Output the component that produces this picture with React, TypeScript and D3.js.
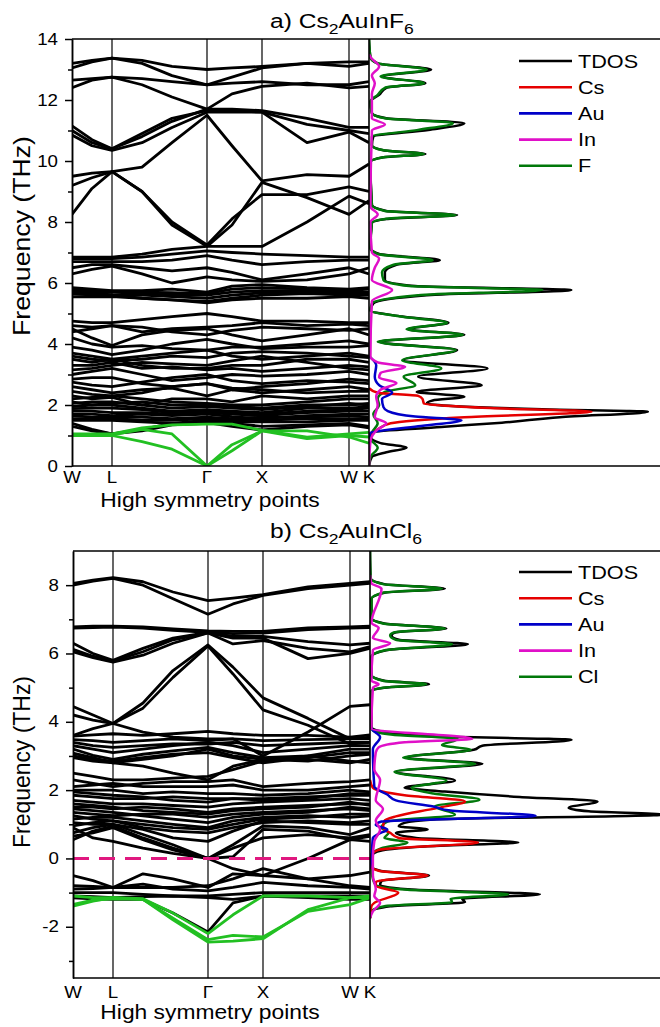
import React, { useEffect, useRef } from 'react';
import * as d3 from 'd3';

const FONT = '"Liberation Sans", Arial, Helvetica, sans-serif';
const SX = 1.17; // the figure's lettering is a bit wider than Arial

// sampled points along the path W - L - Γ - X - W - K (path distance)
const kPath = [0, 20, 40, 70, 100, 135, 160, 190, 235, 277, 297];
const kLabels = ['W', 'L', 'Γ', 'X', 'W', 'K'];
const kLabelPos = [0, 40, 135, 190, 277, 297];

const legendA = ['TDOS', 'Cs', 'Au', 'In', 'F'];
const legendB = ['TDOS', 'Cs', 'Au', 'In', 'Cl'];
const dosColors = ['#000000', '#e60000', '#0000c8', '#e010c8', '#00780a'];
const acousticColor = '#22c022';

// ---- a) Cs2AuInF6 phonon bands (THz) ----
const acousticA = [
  [1.0, 1.0, 1.0, 0.8, 0.55, 0.0, 0.5, 1.15, 0.9, 1.0, 0.95],
  [1.02, 1.02, 1.02, 1.2, 1.05, 0.0, 0.7, 1.15, 1.15, 0.95, 0.75],
  [1.05, 1.05, 1.05, 1.25, 1.35, 1.37, 1.37, 1.17, 0.95, 1.05, 1.1],
];
const bandsA = [
  [13.2, 13.3, 13.37, 13.3, 13.1, 13.0, 13.05, 13.1, 13.2, 13.25, 13.25],
  [13.05, 13.25, 13.37, 13.2, 12.8, 12.5, 12.75, 13.05, 13.2, 13.1, 13.2],
  [12.65, 12.7, 12.75, 12.7, 12.6, 12.5, 12.55, 12.6, 12.5, 12.5, 12.6],
  [12.4, 12.65, 12.75, 12.5, 12.1, 11.7, 12.2, 12.45, 12.55, 12.4, 12.45],
  [11.15, 10.7, 10.4, 10.8, 11.3, 11.7, 11.7, 11.65, 11.4, 11.1, 11.1],
  [11.0, 10.6, 10.4, 10.9, 11.4, 11.65, 11.65, 11.6, 11.2, 11.0, 10.9],
  [10.85, 10.5, 10.35, 10.6, 11.1, 11.6, 11.6, 11.6, 10.6, 10.95, 10.6],
  [9.5, 9.6, 9.65, 9.8, 10.6, 11.5, 10.5, 9.35, 9.55, 9.5, 9.9],
  [9.2, 9.45, 9.65, 9.0, 8.0, 7.25, 8.1, 8.9, 8.9, 9.15, 9.0],
  [8.25, 9.1, 9.65, 9.0, 7.9, 7.2, 7.9, 9.3, 8.8, 8.25, 8.7],
  [6.85, 6.85, 6.85, 6.95, 7.1, 7.2, 7.2, 7.2, 8.0, 8.85, 8.6],
  [6.8, 6.8, 6.8, 6.85, 6.95, 7.05, 7.0, 6.95, 6.9, 6.85, 6.85],
  [6.7, 6.7, 6.7, 6.7, 6.75, 6.9, 6.75, 6.6, 6.7, 6.75, 6.75],
  [6.5, 6.6, 6.6, 6.5, 6.4, 6.5, 6.35, 6.1, 6.3, 6.5, 6.3],
  [6.3, 6.45, 6.55, 6.3, 6.0, 6.2, 6.1, 6.05, 6.1, 6.3, 6.5],
  [5.85, 5.8, 5.75, 5.75, 5.8, 5.7, 5.9, 5.95, 5.85, 5.8, 5.85],
  [5.8, 5.75, 5.72, 5.7, 5.68, 5.65, 5.8, 5.85, 5.8, 5.75, 5.8],
  [5.75, 5.7, 5.7, 5.65, 5.6, 5.6, 5.7, 5.75, 5.75, 5.7, 5.7],
  [5.7, 5.65, 5.62, 5.6, 5.55, 5.5, 5.6, 5.68, 5.7, 5.65, 5.65],
  [5.65, 5.6, 5.6, 5.5, 5.45, 5.4, 5.5, 5.6, 5.65, 5.6, 5.6],
  [5.55, 5.55, 5.55, 5.5, 5.45, 5.35, 5.45, 5.5, 5.5, 5.55, 5.5],
  [4.75, 4.7, 4.7, 4.8, 4.9, 5.0, 4.9, 4.75, 4.75, 4.7, 4.7],
  [4.6, 4.55, 4.6, 4.4, 4.5, 4.55, 4.6, 4.7, 4.6, 4.65, 4.6],
  [4.4, 4.5, 4.6, 4.55, 4.4, 4.3, 4.45, 4.55, 4.5, 4.45, 4.5],
  [4.5, 4.2, 3.95, 4.3, 4.45, 4.5, 4.3, 4.1, 4.3, 4.5, 4.3],
  [4.2, 4.0, 3.9, 3.95, 3.85, 3.8, 3.9, 3.9, 4.0, 4.1, 4.0],
  [3.9, 3.8, 3.65, 3.8, 4.0, 4.15, 4.0, 3.85, 3.9, 3.9, 3.95],
  [3.7, 3.6, 3.5, 3.6, 3.7, 3.8, 3.6, 3.5, 3.6, 3.7, 3.6],
  [3.6, 3.5, 3.45, 3.5, 3.6, 3.55, 3.7, 3.75, 3.7, 3.6, 3.55],
  [3.5, 3.4, 3.5, 3.3, 3.2, 3.2, 3.3, 3.3, 3.5, 3.5, 3.4],
  [3.3, 3.3, 3.4, 3.2, 3.25, 3.15, 3.2, 3.1, 3.2, 3.3, 3.25],
  [3.15, 3.2, 3.3, 3.4, 3.35, 3.3, 3.45, 3.6, 3.4, 3.2, 3.15],
  [3.0, 3.1, 3.2, 3.0, 2.8, 2.9, 3.0, 2.95, 3.0, 3.1, 3.0],
  [2.85, 2.9, 2.9, 2.7, 2.6, 2.7, 2.5, 2.6, 2.7, 2.85, 2.8],
  [2.75, 2.65, 2.6, 2.75, 2.9, 3.0, 2.8, 2.7, 2.8, 2.75, 2.7],
  [2.6, 2.5, 2.4, 2.5, 2.55, 2.3, 2.5, 2.4, 2.5, 2.6, 2.5],
  [2.45, 2.35, 2.3, 2.4, 2.6, 2.7, 2.55, 2.5, 2.4, 2.45, 2.45],
  [2.3, 2.2, 2.25, 2.0, 2.2, 2.2, 2.1, 2.3, 2.2, 2.3, 2.3],
  [2.2, 2.25, 2.3, 2.2, 2.1, 2.05, 2.0, 2.0, 2.1, 2.2, 2.2],
  [2.1, 2.0, 2.05, 2.1, 2.0, 2.0, 1.95, 1.9, 2.0, 2.0, 2.05],
  [2.05, 2.1, 2.1, 2.0, 1.9, 1.95, 1.9, 1.85, 1.95, 2.05, 2.0],
  [1.95, 2.0, 2.0, 1.9, 1.8, 1.85, 1.8, 1.75, 1.9, 1.9, 1.95],
  [1.88, 1.9, 1.9, 1.85, 1.75, 1.8, 1.75, 1.7, 1.8, 1.85, 1.9],
  [1.8, 1.8, 1.75, 1.75, 1.7, 1.75, 1.7, 1.65, 1.75, 1.8, 1.8],
  [1.7, 1.7, 1.65, 1.7, 1.65, 1.7, 1.62, 1.55, 1.65, 1.7, 1.7],
  [1.65, 1.6, 1.6, 1.6, 1.55, 1.6, 1.55, 1.6, 1.6, 1.65, 1.6],
  [1.55, 1.55, 1.55, 1.5, 1.5, 1.55, 1.5, 1.5, 1.55, 1.55, 1.55],
  [1.5, 1.5, 1.5, 1.45, 1.4, 1.5, 1.45, 1.45, 1.45, 1.5, 1.5],
  [1.4, 1.2, 1.05, 1.15, 1.35, 1.4, 1.4, 1.3, 1.35, 1.4, 1.3],
  [1.3, 1.15, 1.05, 1.2, 1.4, 1.42, 1.3, 1.18, 1.3, 1.35, 1.25],
];

// ---- a) projected phonon DOS: [frequency THz, states] ----
const tdosA = [
  [0, 0], [0.3, 0.1], [0.45, 0.6], [0.6, 1.3], [0.75, 0.4], [0.95, 0.05], [1.1, 0.1],
  [1.28, 2.5], [1.42, 4.6], [1.6, 6.6], [1.78, 9.65], [1.86, 6.0], [1.96, 3.0], [2.05, 2.0],
  [2.15, 2.2], [2.27, 3.3], [2.43, 1.65], [2.65, 3.9], [2.93, 1.7], [3.2, 4.1], [3.47, 1.2],
  [3.8, 3.05], [4.07, 0.35], [4.3, 3.3], [4.48, 1.35], [4.7, 2.75], [4.9, 1.15], [5.1, 0.05],
  [5.33, 0.15], [5.6, 2.0], [5.77, 7.0], [5.9, 1.6], [6.1, 0.55], [6.35, 0.55], [6.6, 0.95],
  [6.75, 2.45], [6.95, 0.35], [7.15, 0.05], [7.97, 0.1], [8.1, 0.6], [8.23, 3.05], [8.36, 0.6],
  [8.56, 0.1], [9.97, 0.05], [10.12, 0.5], [10.23, 1.95], [10.35, 0.5], [10.52, 0.1],
  [10.8, 0.15], [11.02, 2.05], [11.24, 3.3], [11.4, 0.6], [11.57, 0.1], [11.95, 0.05],
  [12.17, 0.35], [12.4, 0.6], [12.55, 1.95], [12.77, 0.45], [13.0, 2.15], [13.2, 0.3],
  [13.4, 0.05], [14, 0],
];
const csA = [
  [0.9, 0], [1.2, 0.3], [1.4, 0.75], [1.6, 3.3], [1.78, 7.7], [1.9, 4.2], [2.05, 1.9],
  [2.2, 1.85], [2.3, 1.7], [2.4, 0.3], [2.55, 0],
];
const auA = [
  [0.9, 0], [1.08, 0.05], [1.3, 1.7], [1.5, 3.2], [1.62, 1.6], [1.8, 0.65], [1.93, 0.5],
  [2.2, 0.45], [2.4, 0.8], [2.65, 0.35], [2.93, 0.2], [3.3, 0.25], [3.6, 0],
];
const inA = [
  [0, 0], [0.8, 0.05], [1.2, 0.3], [1.4, 0.6], [1.6, 0.2], [2.0, 0.3], [2.27, 0.25],
  [2.5, 0.4], [2.72, 0.95], [2.9, 0.35], [3.05, 0.4], [3.25, 1.25], [3.4, 0.3], [3.6, 0.05],
  [5.4, 0.1], [5.77, 0.8], [6.1, 0.1], [6.5, 0.2], [6.8, 0.35], [7.0, 0.1], [8.0, 0.05],
  [8.25, 0.3], [8.5, 0.05], [11.0, 0.1], [11.2, 0.55], [11.4, 0.1], [12.2, 0.1],
  [12.55, 0.2], [12.8, 0.1], [13.1, 0.35], [13.35, 0.1], [13.5, 0],
];
const fA = [
  [0, 0], [0.3, 0.05], [0.6, 0.3], [0.9, 0.05], [1.1, 0.1], [1.4, 0.3], [1.7, 0.15],
  [2.0, 0.35], [2.2, 0.3], [2.43, 0.55], [2.65, 1.6], [2.93, 1.2], [3.2, 2.5], [3.47, 1.15],
  [3.8, 3.0], [4.07, 0.3], [4.3, 3.25], [4.48, 1.3], [4.7, 2.7], [4.9, 1.1], [5.1, 0.05],
  [5.33, 0.1], [5.6, 1.7], [5.77, 6.0], [5.9, 1.4], [6.1, 0.5], [6.35, 0.45], [6.6, 0.85],
  [6.75, 2.2], [6.95, 0.3], [7.15, 0.05], [7.97, 0.1], [8.1, 0.55], [8.23, 3.0], [8.36, 0.55],
  [8.56, 0.1], [9.97, 0.05], [10.12, 0.5], [10.23, 1.9], [10.35, 0.5], [10.52, 0.1],
  [10.8, 0.1], [11.02, 1.7], [11.24, 2.9], [11.4, 0.55], [11.57, 0.1], [11.95, 0.05],
  [12.17, 0.3], [12.4, 0.55], [12.55, 1.9], [12.77, 0.4], [13.0, 2.0], [13.2, 0.3],
  [13.4, 0.05], [14, 0],
];

// ---- b) Cs2AuInCl6 phonon bands (THz) ----
const acousticB = [
  [-1.1, -1.15, -1.15, -1.18, -1.6, -2.2, -1.65, -1.1, -1.1, -1.15, -1.15],
  [-1.4, -1.25, -1.15, -1.2, -1.75, -2.38, -2.25, -2.3, -1.55, -1.35, -1.15],
  [-1.35, -1.22, -1.18, -1.2, -1.8, -2.45, -2.42, -2.35, -1.5, -1.15, -1.1],
];
const bandsB = [
  [8.05, 8.15, 8.22, 8.1, 7.8, 7.55, 7.62, 7.72, 7.95, 8.05, 8.1],
  [8.0, 8.12, 8.2, 8.0, 7.6, 7.15, 7.45, 7.7, 7.9, 8.0, 8.05],
  [6.78, 6.8, 6.8, 6.78, 6.72, 6.66, 6.65, 6.65, 6.75, 6.78, 6.8],
  [6.74, 6.76, 6.77, 6.74, 6.68, 6.62, 6.58, 6.6, 6.7, 6.74, 6.76],
  [6.3, 6.0, 5.8, 6.15, 6.45, 6.62, 6.5, 6.5, 6.35, 6.25, 6.3],
  [6.12, 5.92, 5.78, 6.05, 6.4, 6.6, 6.28, 6.38, 6.15, 6.05, 6.2],
  [6.05, 5.88, 5.75, 5.95, 6.3, 6.6, 6.45, 6.45, 5.85, 6.0, 6.15],
  [4.45, 4.2, 3.95, 4.55, 5.5, 6.25, 5.6, 4.7, 4.1, 3.5, 3.5],
  [4.2, 4.05, 3.95, 4.4, 5.3, 6.22, 5.4, 4.35, 3.9, 3.35, 3.4],
  [3.6, 3.8, 3.95, 3.7, 3.55, 3.5, 3.5, 3.0, 3.7, 4.45, 4.5],
  [3.58, 3.62, 3.65, 3.6, 3.65, 3.72, 3.65, 3.6, 3.6, 3.55, 3.62],
  [3.48, 3.45, 3.4, 3.45, 3.5, 3.45, 3.5, 3.45, 3.48, 3.5, 3.55],
  [3.4, 3.3, 3.25, 3.3, 3.35, 3.35, 3.4, 3.3, 3.35, 3.4, 3.4],
  [3.3, 3.2, 3.1, 3.2, 3.3, 3.4, 3.3, 3.1, 3.2, 3.3, 3.3],
  [3.2, 3.02, 2.9, 3.05, 3.15, 3.25, 3.1, 2.95, 3.0, 3.2, 3.2],
  [3.08, 2.95, 2.8, 2.9, 3.0, 3.2, 3.0, 2.9, 2.85, 3.0, 3.05],
  [3.0, 2.9, 2.85, 2.95, 3.05, 3.1, 2.95, 2.8, 2.95, 3.1, 3.1],
  [2.95, 2.85, 2.8, 2.7, 2.5, 2.3, 2.7, 2.9, 2.9, 2.8, 2.9],
  [2.5, 2.4, 2.3, 2.3, 2.35, 2.4, 2.6, 2.85, 3.0, 2.85, 2.8],
  [2.3, 2.2, 2.1, 2.2, 2.25, 2.25, 2.3, 2.1, 2.2, 2.25, 2.3],
  [2.1, 2.15, 2.2, 2.1, 2.1, 2.1, 2.15, 2.0, 2.0, 2.1, 2.15],
  [2.0, 2.0, 2.0, 1.9, 1.95, 1.9, 1.9, 1.85, 1.9, 2.0, 1.95],
  [1.95, 1.9, 1.85, 1.8, 1.7, 1.65, 1.75, 1.7, 1.75, 1.9, 1.9],
  [1.85, 1.8, 1.75, 1.75, 1.8, 1.75, 1.75, 1.75, 1.8, 1.85, 1.85],
  [1.7, 1.65, 1.6, 1.6, 1.55, 1.5, 1.6, 1.65, 1.7, 1.75, 1.7],
  [1.6, 1.55, 1.5, 1.4, 1.35, 1.3, 1.4, 1.45, 1.5, 1.65, 1.55],
  [1.5, 1.5, 1.45, 1.5, 1.45, 1.35, 1.45, 1.5, 1.55, 1.6, 1.6],
  [1.45, 1.4, 1.35, 1.25, 1.15, 1.05, 1.2, 1.3, 1.35, 1.5, 1.45],
  [1.35, 1.3, 1.25, 1.3, 1.3, 1.2, 1.3, 1.35, 1.4, 1.45, 1.4],
  [1.25, 1.15, 1.1, 1.0, 0.9, 0.85, 1.0, 1.15, 1.2, 1.3, 1.3],
  [1.15, 1.2, 1.2, 1.1, 1.0, 0.9, 1.1, 1.2, 1.25, 1.2, 1.25],
  [1.05, 1.0, 1.0, 0.85, 0.6, 0.5, 0.8, 1.1, 1.05, 1.0, 1.0],
  [0.95, 1.05, 1.1, 0.9, 0.8, 0.75, 0.9, 1.05, 1.1, 1.05, 1.1],
  [0.75, 0.9, 1.0, 0.7, 0.4, 0.0, 0.4, 0.95, 0.9, 0.7, 0.9],
  [0.55, 0.8, 0.95, 0.6, 0.3, 0.0, 0.05, 0.85, 0.8, 0.55, 0.65],
  [0.65, 0.75, 0.9, 0.55, 0.25, 0.0, 0.3, 0.6, 0.7, 0.6, 0.7],
  [0.9, 0.6, 0.5, 0.3, 0.15, 0.0, -0.3, -0.5, 0.0, 0.55, 0.5],
  [-0.5, -0.65, -0.85, -0.45, -0.6, -0.85, -0.45, -0.5, -0.6, -0.5, -0.4],
  [-0.8, -0.82, -0.85, -0.85, -0.85, -0.8, -0.6, -0.3, -0.6, -0.8, -0.85],
  [-0.9, -0.88, -0.85, -0.75, -0.9, -0.95, -0.85, -0.7, -0.8, -0.85, -0.9],
  [-1.0, -1.0, -1.0, -1.05, -1.1, -1.1, -1.05, -1.0, -1.0, -1.0, -1.0],
  [-1.1, -1.12, -1.15, -1.12, -1.1, -1.15, -1.2, -1.1, -1.1, -1.1, -1.1],
  [-1.15, -1.18, -1.2, -1.2, -1.6, -2.15, -1.3, -1.1, -1.15, -1.2, -1.2],
];

// ---- b) projected phonon DOS ----
const tdosB = [
  [-1.75, 0], [-1.55, 0.05], [-1.4, 0.7], [-1.28, 3.3], [-1.18, 3.2], [-1.05, 5.9],
  [-0.92, 1.6], [-0.78, 0.35], [-0.66, 0.4], [-0.5, 2.05], [-0.36, 0.35], [-0.23, 0.05],
  [0.05, 0.05], [0.2, 0.25], [0.35, 1.9], [0.47, 5.15], [0.6, 1.6], [0.75, 0.9], [0.85, 2.0],
  [0.94, 1.0], [1.04, 1.2], [1.14, 2.2], [1.28, 10.2], [1.38, 7.6], [1.48, 6.9], [1.67, 7.9],
  [1.8, 5.2], [1.96, 2.6], [2.07, 1.2], [2.28, 2.95], [2.54, 0.9], [2.77, 3.9], [2.95, 1.25],
  [3.18, 3.6], [3.3, 3.9], [3.47, 7.0], [3.58, 2.2], [3.7, 0.5], [3.85, 0.05], [4.9, 0.05],
  [5.0, 0.5], [5.1, 2.05], [5.2, 0.5], [5.37, 0.05], [5.9, 0.05], [6.1, 0.6], [6.27, 3.4],
  [6.4, 1.0], [6.53, 0.75], [6.62, 0.9], [6.73, 2.65], [6.88, 0.5], [7.03, 0.05], [7.6, 0.05],
  [7.78, 0.5], [7.9, 2.6], [8.03, 0.5], [8.2, 0.02], [9, 0],
];
const csB = [
  [-1.75, 0], [-1.4, 0.05], [-1.3, 0.15], [-1.0, 0.98], [-0.8, 0.2], [-0.68, 0.2],
  [-0.5, 2.0], [-0.36, 0.3], [-0.23, 0.02], [0.1, 0.05], [0.25, 0.3], [0.47, 3.75],
  [0.6, 1.0], [0.75, 0.7], [0.9, 0.45], [1.1, 0.5], [1.23, 0.9], [1.48, 2.35], [1.67, 3.3],
  [1.85, 1.2], [2.07, 0.1], [2.3, 0],
];
const auB = [
  [-0.3, 0], [0, 0.05], [0.6, 0.1], [0.72, 0.3], [0.85, 0.6], [0.98, 0.2], [1.08, 0.4],
  [1.25, 5.75], [1.4, 2.8], [1.52, 2.2], [1.7, 0.9], [1.87, 0.6], [2.1, 0.15], [3.2, 0.1],
  [3.55, 0.35], [3.75, 0.1], [3.9, 0],
];
const inB = [
  [-1.75, 0], [-1.55, 0.1], [-1.3, 0.35], [-1.1, 0.15], [-0.9, 0.2], [-0.5, 0.1], [0, 0.1],
  [0.5, 0.15], [0.85, 0.35], [1.1, 0.2], [1.45, 0.45], [1.7, 0.2], [2.3, 0.35], [2.6, 0.15],
  [3.1, 0.2], [3.25, 0.3], [3.4, 1.2], [3.5, 3.55], [3.8, 0.05], [5.0, 0.1], [5.1, 0.3],
  [5.2, 0.05], [6.1, 0.1], [6.3, 0.7], [6.45, 0.1], [6.75, 0.3], [6.9, 0.05], [7.9, 0.4],
  [8.05, 0.05], [8.3, 0],
];
const clB = [
  [-1.75, 0], [-1.55, 0.05], [-1.4, 0.5], [-1.28, 2.85], [-1.18, 2.8], [-1.05, 4.8],
  [-0.92, 1.3], [-0.78, 0.2], [-0.6, 0.1], [-0.3, 0.05], [0.1, 0.05], [0.3, 0.4], [0.47, 1.3],
  [0.6, 0.5], [0.75, 0.65], [0.9, 0.4], [1.08, 0.6], [1.28, 2.95], [1.52, 2.25], [1.72, 3.8],
  [1.9, 2.2], [2.07, 1.45], [2.28, 2.65], [2.54, 0.85], [2.77, 3.65], [2.95, 1.15],
  [3.18, 3.5], [3.32, 2.5], [3.5, 3.05], [3.62, 0.8], [3.75, 0.1], [3.9, 0.02], [4.9, 0.05],
  [5.0, 0.45], [5.1, 1.95], [5.2, 0.45], [5.37, 0.05], [5.9, 0.05], [6.1, 0.55], [6.27, 2.85],
  [6.4, 0.9], [6.53, 0.7], [6.62, 0.85], [6.73, 2.6], [6.88, 0.45], [7.03, 0.05], [7.6, 0.05],
  [7.78, 0.45], [7.9, 2.5], [8.03, 0.45], [8.2, 0.02], [9, 0],
];

const RIGHT = 660;

function Txt({ x, y, size, anchor = 'start', children }: any) {
  return (
    <text transform={`translate(${x},${y}) scale(${SX},1)`} fontSize={size}
      fontFamily={FONT} textAnchor={anchor} fill="#000">{children}</text>
  );
}

function Panel(props: any) {
  const { id, left, kx, top, bottom, domain, major, minor, bands, acoustic, dos, legend,
    legendY, formula, sub, titleY, tickY, xTitleY, yTitleY, yTitleLen, zeroLine } = props;
  const axisRef = useRef<SVGGElement>(null);

  const x = d3.scaleLinear().domain([0, 297]).range([left, kx]);
  const y = d3.scaleLinear().domain(domain).range([bottom, top]);
  const dx = d3.scaleLinear().domain([0, 10]).range([kx, 658]);

  const band = d3.line<number>().x((_, i) => x(kPath[i])).y(d => y(d));
  const dosLine = d3.line<number[]>().x(d => dx(d[1])).y(d => y(d[0])).curve(d3.curveMonotoneY);

  useEffect(() => {
    const g = d3.select(axisRef.current);
    g.selectAll('*').remove();
    g.append('g').call(d3.axisLeft(y).tickValues(minor).tickSize(4).tickSizeOuter(0).tickFormat(() => ''));
    g.append('g').call(d3.axisLeft(y).tickValues(major).tickSize(7).tickPadding(5).tickSizeOuter(0)
      .tickFormat(d => String(d)));
    g.selectAll('path.domain').attr('stroke', '#000').attr('stroke-width', 1.5);
    g.selectAll('line').attr('stroke', '#000').attr('stroke-width', 1.5);
    g.selectAll('text').attr('font-size', 16).attr('font-family', FONT).attr('fill', '#000')
      .attr('transform', `scale(${SX},1)`);
  }, []);

  // draw order: TDOS, anion, Cs, Au, In
  const order = [0, 4, 1, 2, 3];

  return (
    <g>
      <defs>
        <clipPath id={`dos-${id}`}>
          <rect x={kx} y={top} width={RIGHT - kx} height={bottom - top} />
        </clipPath>
        <clipPath id={`band-${id}`}>
          <rect x={left} y={top} width={kx - left} height={bottom - top} />
        </clipPath>
      </defs>

      {/* high-symmetry separators */}
      {kLabelPos.slice(1, 5).map((k, i) => (
        <line key={i} x1={x(k)} x2={x(k)} y1={top} y2={bottom} stroke="#000" strokeWidth={1.2} />
      ))}

      <g clipPath={`url(#band-${id})`} fill="none" strokeLinejoin="round">
        {bands.map((b: number[], i: number) => (
          <path key={i} d={band(b) || ''} stroke="#000" strokeWidth={2.8} />
        ))}
        {acoustic.map((b: number[], i: number) => (
          <path key={i} d={band(b) || ''} stroke={acousticColor} strokeWidth={2.8} />
        ))}
        {zeroLine && (
          <line x1={left} x2={kx} y1={y(0)} y2={y(0)} stroke="#e0187f" strokeWidth={3}
            strokeDasharray="16 10" />
        )}
      </g>

      <g clipPath={`url(#dos-${id})`} fill="none">
        {order.map(i => (
          <path key={i} d={dosLine(dos[i]) || ''} stroke={dosColors[i]} strokeWidth={2.5} />
        ))}
      </g>

      {/* frame */}
      <line x1={left} x2={RIGHT} y1={top} y2={top} stroke="#000" strokeWidth={1.5} />
      <line x1={left} x2={RIGHT} y1={bottom} y2={bottom} stroke="#000" strokeWidth={1.6} />
      <line x1={kx} x2={kx} y1={top} y2={bottom} stroke="#000" strokeWidth={1.6} />
      <g ref={axisRef} transform={`translate(${left},0)`} />

      {kLabels.map((l, i) => (
        <Txt key={i} x={x(kLabelPos[i])} y={tickY} size={16} anchor="middle">{l}</Txt>
      ))}
      <Txt x={210} y={xTitleY} size={19.5} anchor="middle">High symmetry points</Txt>

      <text transform={`translate(30,${yTitleY}) rotate(-90) scale(1,${SX})`} fontSize={20}
        fontFamily={FONT} textAnchor="middle" textLength={yTitleLen} lengthAdjust="spacingAndGlyphs"
        fill="#000">Frequency (THz)</text>

      <text transform={`translate(270,${titleY}) scale(${SX},1)`} fontSize={21} fontFamily={FONT} fill="#000">
        {formula[0]}<tspan dy={6} fontSize={15}>2</tspan>
        <tspan dy={-6}>{formula[1]}</tspan><tspan dy={6} fontSize={15}>{sub}</tspan>
      </text>

      {legend.map((name: string, i: number) => (
        <g key={name}>
          <line x1={519} x2={572} y1={legendY + i * 26.2} y2={legendY + i * 26.2}
            stroke={dosColors[i]} strokeWidth={2.6} />
          <Txt x={578} y={legendY + i * 26.2 + 6.6} size={18.5}>{name}</Txt>
        </g>
      ))}
    </g>
  );
}

export default function App() {
  return (
    <svg width={660} height={1027} style={{ position: 'absolute', left: 0, top: 0, background: '#fff' }}>
      <Panel id="a" left={72} kx={369} top={39} bottom={466} domain={[0, 14]}
        major={d3.range(0, 15, 2)} minor={d3.range(1, 14, 2)}
        bands={bandsA} acoustic={acousticA} dos={[tdosA, csA, auA, inA, fA]} legend={legendA}
        legendY={61} formula={['a) Cs', 'AuInF']} sub="6" titleY={28} tickY={483}
        xTitleY={507} yTitleY={236} yTitleLen={200} zeroLine={false} />
      <Panel id="b" left={73} kx={370} top={551} bottom={978} domain={[-3.5, 9]}
        major={d3.range(-2, 9, 2)} minor={d3.range(-3, 9, 2)}
        bands={bandsB} acoustic={acousticB} dos={[tdosB, csB, auB, inB, clB]} legend={legendB}
        legendY={572} formula={['b) Cs', 'AuInCl']} sub="6" titleY={538} tickY={998}
        xTitleY={1019} yTitleY={762} yTitleLen={172} zeroLine={true} />
    </svg>
  );
}
